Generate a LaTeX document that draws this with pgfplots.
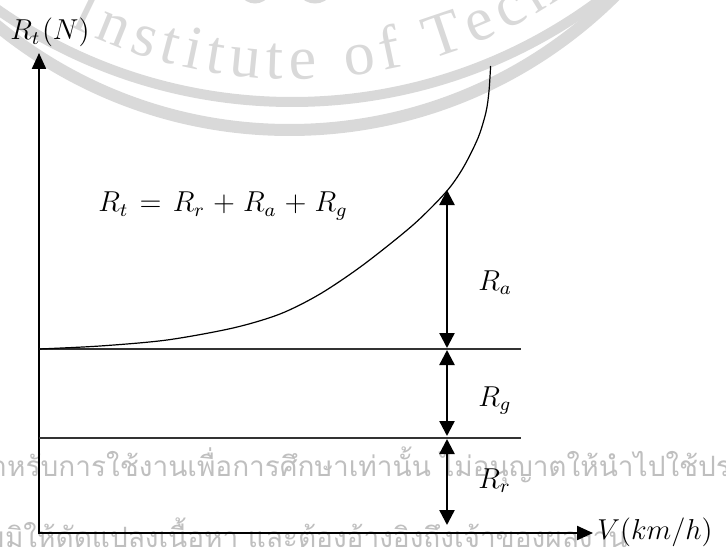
\documentclass[border=0pt]{standalone}
\usepackage{fontspec}
\usepackage{graphicx}
\usepackage{pgfplots}
\pgfplotsset{compat=1.18}
\usetikzlibrary{arrows.meta,decorations.text}
\newfontfamily\thaifont[Script=Thai]{Loma}
\newfontfamily\wmfont{Liberation Serif}
\colorlet{wm}{black!15}
\newcommand{\lab}[1]{\scalebox{1.2}{\fontsize{12}{14}\selectfont$#1$}}

\begin{document}
\begin{tikzpicture}[x=0.5pt,y=0.5pt,
    lbl/.style={anchor=base west, inner sep=0pt},
    thai/.style={anchor=base west, inner sep=0pt, text=black!25,
      font=\thaifont\fontsize{14}{16}\selectfont}]

  % faint watermark behind the diagram
  \begin{scope}
    \clip (0,0) rectangle (726,552);
    \draw[wm, line width=5pt] (292,965) circle[radius=257.5pt];
    \draw[wm, line width=6pt] (289.5,884) circle[radius=231pt];
    \draw[wm, line width=3.5pt] (255,578) ellipse[x radius=9pt, y radius=13pt];
    \draw[wm, line width=3.5pt] (315,578) ellipse[x radius=10pt, y radius=13pt];
    \path[decorate, decoration={text along path,
        text={|\wmfont\fontsize{31}{31}\selectfont\color{wm}|Institute of Technology},
        text align=fit to path}]
      (292,965) ++(243:246pt) arc[start angle=243, end angle=328, radius=246pt];
    \node[thai] at (-26,76) {สำหรับการใช้งานเพื่อการศึกษาเท่านั้น ไม่อนุญาตให้นำไปใช้ประโยชน์};
    \node[thai] at (-48,5) {ห้ามมิให้ดัดแปลงเนื้อหา และต้องอ้างอิงถึงเจ้าของผลงาน};
  \end{scope}

  \begin{axis}[at={(0,0)}, anchor=south west, scale only axis,
      x=0.5pt, y=0.5pt, disabledatascaling,
      xmin=0, xmax=726, ymin=0, ymax=552,
      hide axis, clip=false]

    % axes
    \addplot[line width=1.1pt, {Triangle[length=8pt,width=7pt]}-{Triangle[length=8pt,width=7pt]}]
      coordinates {(39,499) (39,19) (593,19)};

    % levels of R_r and R_r + R_g
    \addplot[line width=0.6pt, black!80] coordinates {(39,203) (521,203)};
    \addplot[line width=0.6pt, black!80] coordinates {(39,114) (521,114)};

    % total resistance curve
    \addplot[line width=0.6pt, smooth] coordinates {
      (39,203) (100,206) (167,212) (233,224) (280,238) (320,258) (363,287)
      (413,327) (446,360) (463,384) (478,414) (486,440) (489,461) (490.6,486)};

    % dimension arrows
    \addplot[line width=1.2pt, {Triangle[length=7.5pt,width=7.5pt]}-{Triangle[length=7.5pt,width=7.5pt]}]
      coordinates {(447,362) (447,204)};
    \addplot[line width=1.2pt, {Triangle[length=7.5pt,width=7.5pt]}-{Triangle[length=7.5pt,width=7.5pt]}]
      coordinates {(447,202) (447,116)};
    \addplot[line width=1.2pt, {Triangle[length=7.5pt,width=7.5pt]}-{Triangle[length=7.5pt,width=7.5pt]}]
      coordinates {(447,113) (447,27)};

    \node[lbl] at (axis cs:10,512) {\lab{R_t\mkern1mu(N)}};
    \node[lbl] at (axis cs:597,13) {\lab{V(km/h)}};
    \node[lbl] at (axis cs:98,340) {\lab{\thickmuskip=7mu \medmuskip=5mu R_t = R_r + R_a + R_g}};
    \node[lbl] at (axis cs:478,262) {\lab{R_a}};
    \node[lbl] at (axis cs:478,146) {\lab{R_g}};
    \node[lbl] at (axis cs:478,64) {\lab{R_r}};
  \end{axis}

  \pgfresetboundingbox
  \path[use as bounding box] (0,0) rectangle (726,552);
\end{tikzpicture}
\end{document}
